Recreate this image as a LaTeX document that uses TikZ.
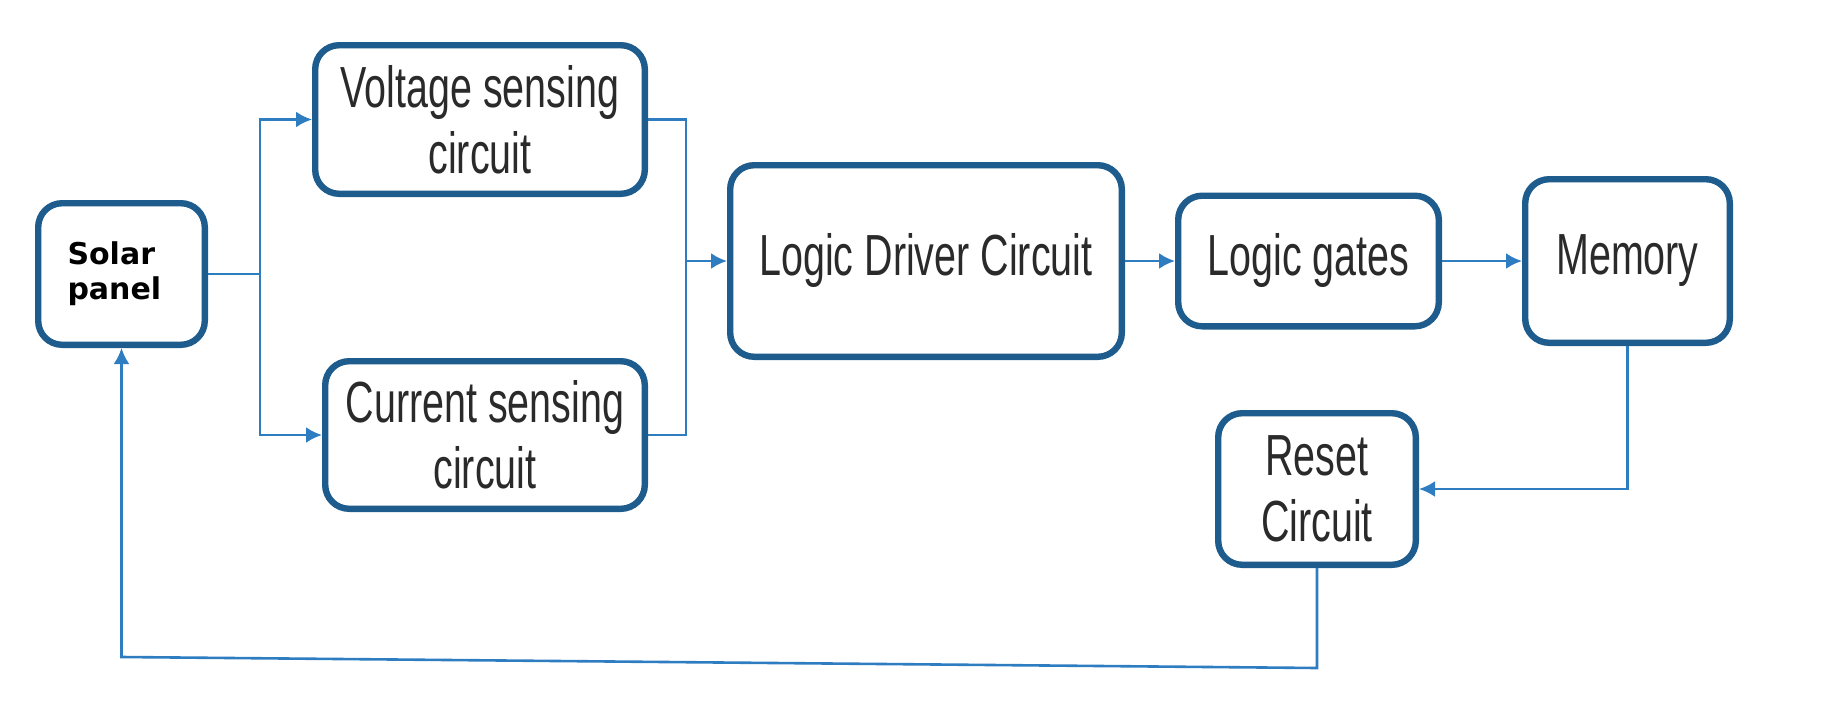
\documentclass[tikz,border=0pt]{standalone}
\usepackage{fontspec}
\usetikzlibrary{arrows.meta,positioning}
\newfontfamily\boxfont{Liberation Sans}[FakeStretch=0.68]
\newfontfamily\panelfont{DejaVu Sans}
\definecolor{boxblue}{HTML}{1D5C8C}
\definecolor{linkblue}{HTML}{2F7DC1}
\definecolor{inkgray}{HTML}{2A2A2A}

\begin{document}
\begin{tikzpicture}[
  x=0.5pt, y=-0.5pt,
  >=Latex,
  block/.style={rectangle, draw=boxblue, line width=3.2pt, rounded corners=12pt, align=center, inner sep=0pt, text=inkgray, font=\boxfont\fontsize{29}{33}\selectfont},
  wire/.style={draw=linkblue, line width=1.3pt},
  line/.style={wire, -{Latex[length=8pt,width=8pt]}}
]
\useasboundingbox (0,0) rectangle (1842,728);

\node[block, minimum width=83.3pt, minimum height=70.8pt, text width=54pt, align=left, text=black, font=\panelfont\bfseries\fontsize{15}{17.5}\selectfont] (solar) at (121.5,274) {Solar\\panel};
\node[block, minimum width=164.8pt, minimum height=74.3pt] (volt) at (480,119.5) {Voltage sensing\\circuit};
\node[block, minimum width=159.8pt, minimum height=73.8pt] (curr) at (485,435) {Current sensing\\circuit};
\node[block, minimum width=195.8pt, minimum height=95.8pt] (driver) at (926,261) {Logic Driver Circuit};
\node[block, minimum width=130.3pt, minimum height=65.3pt, right=25pt of driver] (gates) {Logic gates};
\node[block, minimum width=102.3pt, minimum height=81.8pt, right=40pt of gates] (mem) {Memory};
\node[block, minimum width=98.8pt, minimum height=75.8pt, below=32pt of mem, xshift=-155.25pt] (reset) {Reset\\Circuit};

% split from the panel to both sensing circuits
\path[wire] (solar.east) -- ++(52,0) coordinate (split);
\path[line] (split) |- (volt.west);
\path[line] (split) |- (curr.west);

% both sensing circuits join into the driver
\coordinate (join) at (686,261);
\path[wire] (volt.east) -| (join);
\path[wire] (curr.east) -| (join);
\path[line] (join) -- (driver.west);

\path[line] (driver) -- (gates);
\path[line] (gates) -- (mem);
\path[line] (mem.south) |- (reset.east);

% feedback to the panel
\path[line] (reset.south) -- (reset.south |- 0,668) -- (solar.south |- 0,657) -- (solar.south);

\end{tikzpicture}
\end{document}
